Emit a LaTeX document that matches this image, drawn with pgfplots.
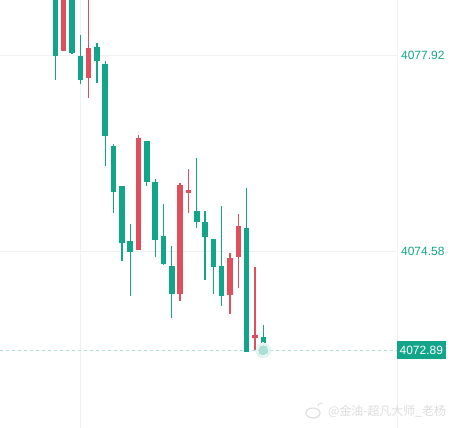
\documentclass[border=0pt]{standalone}
\usepackage{pgfplots}
\usepackage{pgfplotstable}
\pgfplotsset{compat=1.18}
\usepackage{fontspec}
\setmainfont{Liberation Sans}
\newfontfamily\cjk{Noto Sans CJK SC}
\definecolor{cgreen}{RGB}{18,165,137}
\definecolor{cred}{RGB}{224,80,92}
\definecolor{cgrid}{RGB}{240,241,244}

% x open high low close
\pgfplotstableread{
x o h l c
1 4079.20 4079.30 4077.49 4077.91
3 4079.10 4079.20 4077.93 4077.95
4 4077.90 4078.26 4077.42 4077.49
6 4078.06 4078.13 4077.44 4077.82
7 4077.77 4077.82 4076.02 4076.54
8 4076.37 4076.40 4075.23 4075.59
9 4075.69 4075.69 4074.41 4074.72
10 4074.75 4075.04 4073.82 4074.57
12 4076.45 4076.45 4075.69 4075.76
13 4075.76 4075.80 4074.47 4074.77
14 4074.84 4075.38 4074.34 4074.36
15 4074.33 4074.67 4073.44 4073.85
18 4075.26 4076.17 4074.98 4075.08
19 4075.07 4075.26 4074.09 4074.81
20 4074.78 4074.78 4073.85 4074.31
21 4074.32 4075.35 4073.65 4073.82
24 4074.97 4075.65 4072.86 4072.86
26 4073.11 4073.32 4072.87 4072.89
}\greentab

\pgfplotstableread{
x o h l c
2 4077.99 4079.20 4077.99 4079.10
5 4077.53 4078.95 4077.19 4078.04
11 4074.59 4076.56 4074.59 4076.51
16 4073.84 4075.74 4073.73 4075.70
17 4075.57 4075.98 4075.23 4075.62
22 4073.83 4074.55 4073.51 4074.46
23 4074.48 4075.21 4073.95 4075.01
25 4073.10 4074.30 4072.90 4073.15
}\redtab

\begin{document}
\begin{tikzpicture}
\path[use as bounding box] (0,0) rectangle (452bp,428bp);
\begin{axis}[
  at={(0,0)}, anchor=south west,
  scale only axis, width=397bp, height=428bp,
  xmin=-5.65, xmax=42.07,
  ymin=4071.564, ymax=4078.857,
  axis line style={draw=none},
  major tick length=0pt,
  xtick={4,42.07}, xticklabels={},
  xmajorgrids, ymajorgrids,
  major grid style={draw=cgrid, line width=0.9bp},
  ytick={4074.58,4077.92},
  yticklabels={4074.58,4077.92},
  yticklabel pos=right,
  yticklabel style={font=\fontsize{12}{14}\selectfont, text=cgreen, anchor=west, inner xsep=4bp},
  extra y ticks={4072.89},
  extra y tick labels={4072.89},
  extra y tick style={
    grid=major,
    major grid style={draw=cgreen!35, line width=1.1bp, dash pattern=on 3bp off 3bp},
    yticklabel style={fill=cgreen, text=white, anchor=west, inner xsep=3bp, minimum height=17.6bp, xshift=-0.5bp}
  },
  clip=true,
]
% glow
\addplot[only marks, mark=*, mark size=7.5bp, mark options={draw=cgreen!12, fill=cgreen!12, line width=0pt}, forget plot] coordinates {(26,4072.89)};
\addplot[only marks, mark=*, mark size=4.5bp, mark options={draw=cgreen!35, fill=cgreen!35, line width=0pt}, forget plot] coordinates {(26,4072.89)};
% green wicks and bodies
\addplot[draw=none, mark=none, forget plot,
  error bars/.cd, y dir=plus, y explicit, error mark=none,
  error bar style={draw=cgreen, line width=1.3bp}]
  table[x=x, y=l, y error expr={\thisrow{h}-\thisrow{l}}] {\greentab};
\addplot[draw=none, mark=none, forget plot,
  error bars/.cd, y dir=plus, y explicit, error mark=none,
  error bar style={draw=cgreen, line width=5.5bp}]
  table[x=x, y=c, y error expr={\thisrow{o}-\thisrow{c}}] {\greentab};
% red wicks and bodies
\addplot[draw=none, mark=none, forget plot,
  error bars/.cd, y dir=plus, y explicit, error mark=none,
  error bar style={draw=cred, line width=1.3bp}]
  table[x=x, y=l, y error expr={\thisrow{h}-\thisrow{l}}] {\redtab};
\addplot[draw=none, mark=none, forget plot,
  error bars/.cd, y dir=plus, y explicit, error mark=none,
  error bar style={draw=cred, line width=5.5bp}]
  table[x=x, y=o, y error expr={\thisrow{c}-\thisrow{o}}] {\redtab};
\end{axis}
% watermark
\draw[gray!25, line width=1.2bp] (313bp,15bp) ellipse (7bp and 5bp);
\draw[gray!25, line width=1bp] (318bp,22bp) arc (180:60:3bp);
\node[anchor=west, inner sep=0pt, text=gray!28] at (328bp,17bp) {\cjk\fontsize{12}{12}\selectfont @金油-超凡大师\_老杨};
\end{tikzpicture}
\end{document}
